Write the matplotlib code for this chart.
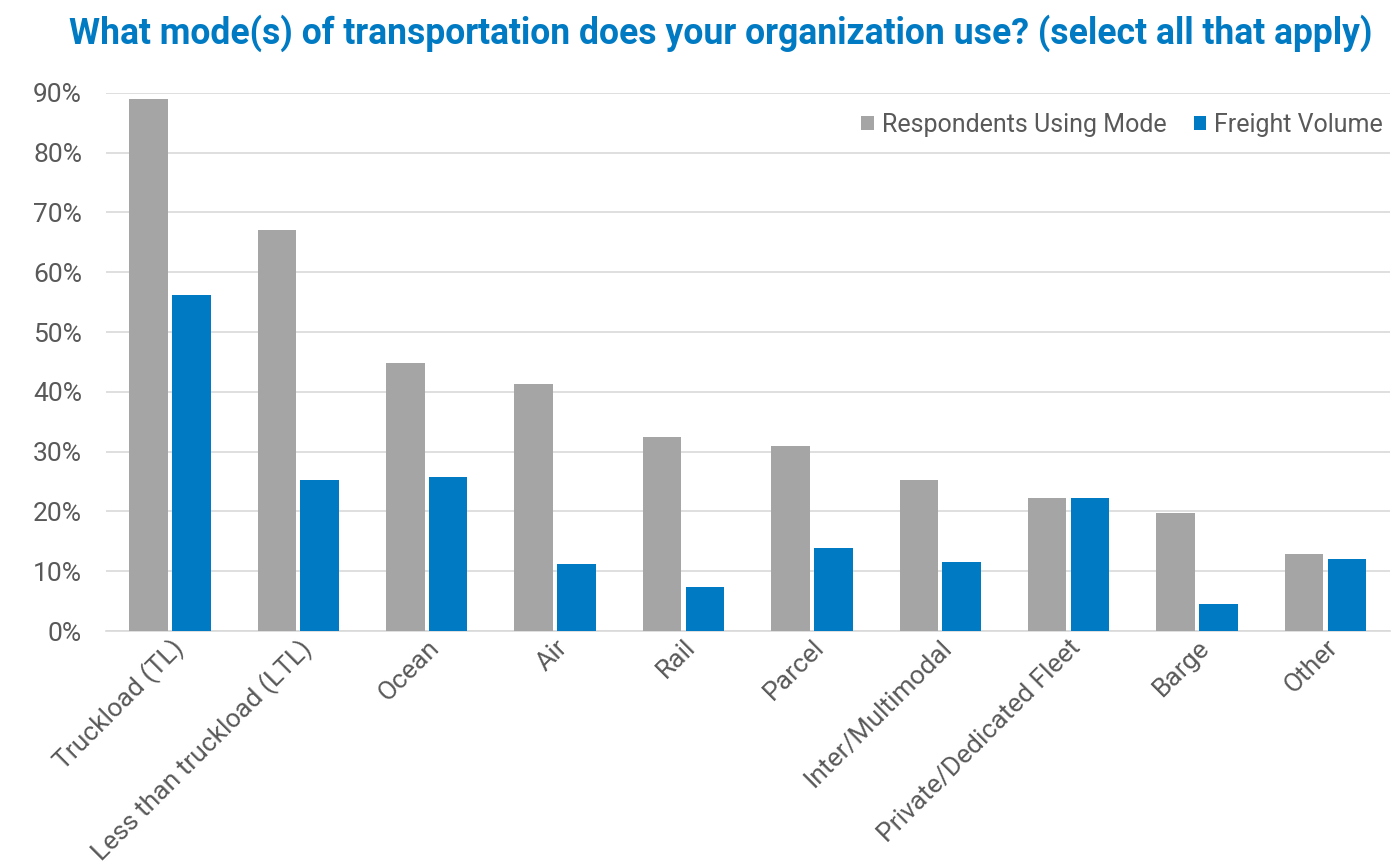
import numpy as np
import matplotlib
matplotlib.use("Agg")
import matplotlib.pyplot as plt
from matplotlib.ticker import PercentFormatter

plt.rcParams["font.family"] = ["Roboto", "DejaVu Sans"]

categories = ["Truckload (TL)", "Less than truckload (LTL)", "Ocean", "Air", "Rail",
              "Parcel", "Inter/Multimodal", "Private/Dedicated Fleet", "Barge", "Other"]
respondents = [89, 67, 44.8, 41.3, 32.4, 31, 25.2, 22.3, 19.7, 12.8]
freight = [56.2, 25.2, 25.8, 11.2, 7.3, 13.9, 11.5, 22.3, 4.6, 12.0]

GRAY = "#A5A5A5"
BLUE = "#007AC2"
TEXT = "#595959"

fig = plt.figure(figsize=(13.91, 8.68), dpi=100)
ax = fig.add_axes([0.076, 0.273, 0.923, 0.620])

x = np.arange(len(categories))
w = 0.30
ax.bar(x - 0.167, respondents, w, color=GRAY, label="Respondents Using Mode", zorder=3)
ax.bar(x + 0.167, freight, w, color=BLUE, label="Freight Volume", zorder=3)

ax.set_xlim(-0.5, len(categories) - 0.5)
ax.set_ylim(0, 90)
ax.set_yticks(range(0, 91, 10))
ax.yaxis.set_major_formatter(PercentFormatter(decimals=0))
ax.yaxis.grid(True, color="#D9D9D9", linewidth=1.2, zorder=0)
ax.set_xticks(x)
ax.set_xticklabels(categories, rotation=45, ha="right", rotation_mode="anchor")
ax.tick_params(axis="both", length=0, labelsize=19, colors=TEXT)
ax.tick_params(axis="x", pad=3)
ax.tick_params(axis="y", pad=17)
for s in ["top", "right", "left"]:
    ax.spines[s].set_visible(False)
ax.spines["bottom"].set_color("#D9D9D9")
ax.spines["bottom"].set_linewidth(1.2)

leg = ax.legend(loc="upper right", bbox_to_anchor=(0.995, 0.963), ncol=2, frameon=False,
                fontsize=18, handlelength=0.5, handleheight=0.5, handletextpad=0.32,
                columnspacing=1.1, borderaxespad=0, borderpad=0)
for t in leg.get_texts():
    t.set_color(TEXT)

fig.text(0.518, 0.962, "What mode(s) of transportation does your organization use? (select all that apply)",
         ha="center", va="center", fontsize=25.6, fontweight="bold", color=BLUE)

fig.savefig("out.png", dpi=100)
